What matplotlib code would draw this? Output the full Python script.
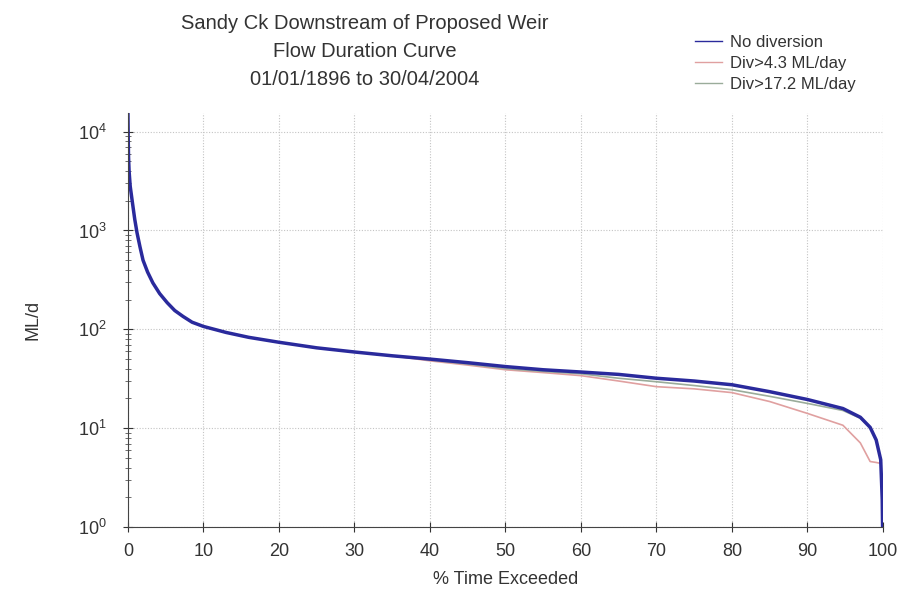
import matplotlib.pyplot as plt
import numpy as np

plt.rcParams['font.family'] = ['Liberation Sans', 'DejaVu Sans']
plt.rcParams['mathtext.fontset'] = 'custom'
plt.rcParams['mathtext.rm'] = 'Liberation Sans'

# % time exceeded
pct = [0, 0.03, 0.08, 0.15, 0.3, 0.6, 0.9, 1.2, 1.6, 2, 2.6, 3.3, 4.2, 5.2, 6.2, 7.3, 8.5,
       10, 13, 16, 20, 25, 30, 35, 40, 45, 50, 55, 60, 65, 70, 75, 80, 85, 90,
       94.7, 97, 98.3, 99.1, 99.7, 99.9, 100]

# flows (ML/d)
head = [15500, 9000, 5500, 4000, 2800, 1900, 1300, 950, 680, 500, 380, 295, 230, 186, 155, 135, 118,
        107, 93, 83, 74, 65, 59, 54]
no_div = head + [50, 46, 42, 39, 37, 35, 32, 30, 27.5, 23.4, 19.5,
                 15.8, 12.9, 10.2, 7.6, 4.8, 1.9, 0.5]
div_4_3 = head + [48, 43.5, 39, 36.5, 34, 30, 26.3, 25, 22.9, 18.6, 14.1,
                  10.7, 7.1, 4.6, 4.5, 4.4, 1.9, 0.5]
div_17_2 = head + [49, 44.5, 40, 37.5, 35.5, 32, 29.5, 27, 24.5, 21, 17.8,
                   15.1, 12.6, 10.2, 7.6, 4.8, 1.9, 0.5]

fig = plt.figure(figsize=(9.01, 6.10), dpi=100)
ax = fig.add_axes([0.142, 0.136, 0.838, 0.679])

l2, = ax.plot(pct, div_4_3, color='#e0a0a0', lw=1.2, label='Div>4.3 ML/day')
l3, = ax.plot(pct, div_17_2, color='#9aac9a', lw=1.2, label='Div>17.2 ML/day')
l1, = ax.plot(pct, no_div, color='#2a2a9c', lw=2.5, label='No diversion')

ax.set_yscale('log')
ax.set_ylim(1, 10 ** 4.19)
ax.set_xlim(0, 100)
ax.set_xticks(np.arange(0, 101, 10))
ax.set_yticks([1, 10, 100, 1000, 10000])

for s in ['top', 'right']:
    ax.spines[s].set_visible(False)
ax.spines['left'].set_color('#444444')
ax.spines['bottom'].set_color('#444444')

ax.grid(True, which='major', color='#c4c4c4', lw=0.8, linestyle=(0, (1, 1.5)))
ax.tick_params(which='major', direction='inout', length=7, labelsize=13, colors='#333333', pad=8)
ax.tick_params(which='minor', direction='inout', length=4, colors='#555555')
ax.tick_params(axis='y', pad=12)

ax.set_xlabel('% Time Exceeded', fontsize=13, color='#333333', labelpad=8)
ax.set_ylabel('ML/d', fontsize=13, color='#333333', labelpad=26)

fig.text(0.405, 0.977, 'Sandy Ck Downstream of Proposed Weir\nFlow Duration Curve\n01/01/1896 to 30/04/2004',
         ha='center', va='top', fontsize=14.5, color='#333333', linespacing=1.6)

fig.legend([l1, l2, l3], ['No diversion', 'Div>4.3 ML/day', 'Div>17.2 ML/day'],
           loc='upper left', bbox_to_anchor=(0.755, 0.968), frameon=False, fontsize=12,
           handlelength=1.6, handletextpad=0.5, labelspacing=0.38, labelcolor='#333333')
for h in fig.legends[0].get_lines():
    h.set_linewidth(1.0)

plt.savefig('out.png', dpi=100)
